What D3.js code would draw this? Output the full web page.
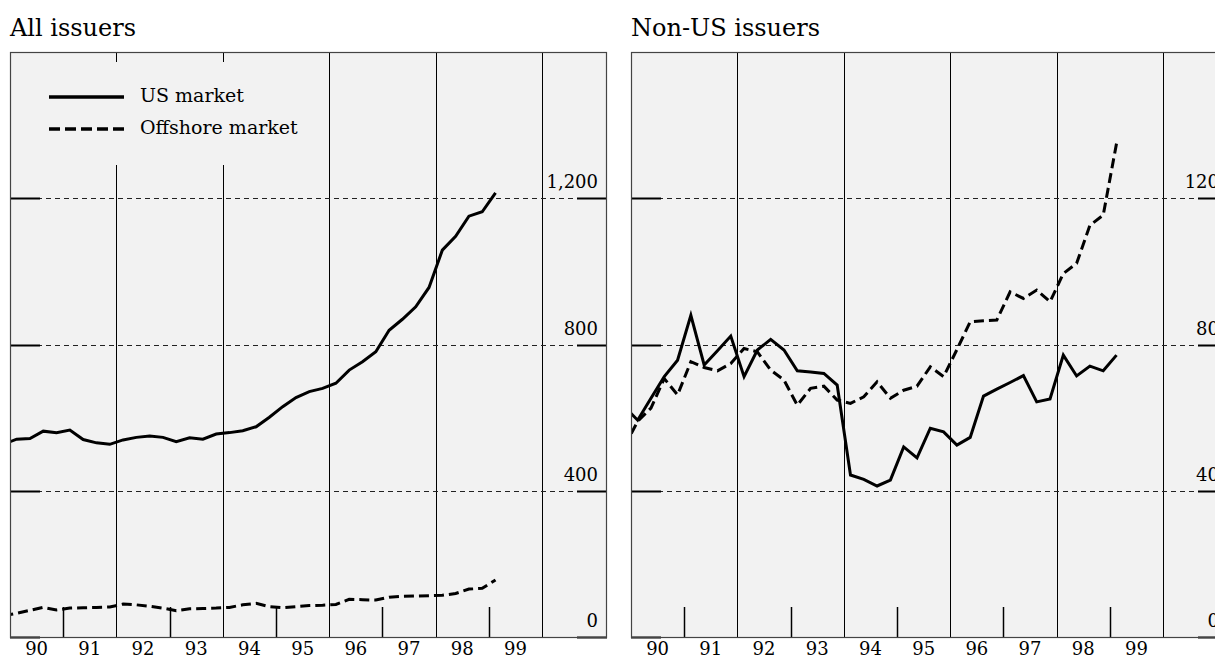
<!DOCTYPE html>
<html>
<head>
<meta charset="utf-8">
<script src="https://cdn.jsdelivr.net/npm/d3@7"></script>
<style>
  body { margin: 0; background: #fff; }
  svg { display: block; font-family: "DejaVu Serif", serif; }
</style>
</head>
<body>
<div id="chart"></div>
<script>
// quarterly observations, 1989Q4 .. 1999Q1
const quarters = ["89Q4",
  "90Q1","90Q2","90Q3","90Q4","91Q1","91Q2","91Q3","91Q4",
  "92Q1","92Q2","92Q3","92Q4","93Q1","93Q2","93Q3","93Q4",
  "94Q1","94Q2","94Q3","94Q4","95Q1","95Q2","95Q3","95Q4",
  "96Q1","96Q2","96Q3","96Q4","97Q1","97Q2","97Q3","97Q4",
  "98Q1","98Q2","98Q3","98Q4","99Q1"];

const yearLabels = ["90","91","92","93","94","95","96","97","98","99"];

// All issuers
const allUS = [527, 541, 543, 563, 559, 566, 540, 531, 527, 539, 546, 550, 546, 534, 545, 541,
  555, 559, 564, 575, 601, 630, 655, 671, 680, 694, 730, 753, 780, 839, 869, 903,
  956, 1058, 1096, 1151, 1163, 1215];
const allOffshore = [58, 65, 73, 81, 74, 79, 80, 81, 82, 90, 88, 84, 79, 72, 77, 78,
  79, 81, 88, 92, 83, 80, 83, 86, 87, 89, 103, 102, 101, 109, 111, 112,
  113, 114, 119, 131, 133, 156];
const allTicks = [0, 400, 800, 1200];
const allTickLabels = ["0", "400", "800", "1,200"];

// Non-US issuers
const nonUS = [63, 59.3, 65.3, 71.2, 75.7, 88.0, 74.4, 78.3, 82.3, 71.2, 78.5, 81.4, 78.5, 72.8, 72.5, 72.1,
  68.9, 44.3, 43.1, 41.3, 42.9, 52.0, 49.0, 57.1, 56.1, 52.5, 54.6, 65.9, 67.8, 69.6, 71.5, 64.3,
  65.1, 77.1, 71.4, 74.1, 72.8, 77.1];
const nonOffshore = [52, 59, 62.6, 70.7, 66.2, 75.3, 73.7, 72.8, 74.8, 78.9, 78.0, 73.0, 70.3, 63.4, 68.0, 68.6,
  64.8, 63.9, 65.7, 69.8, 65.3, 67.5, 68.6, 73.9, 71.2, 78.6, 86.2, 86.5, 86.7, 94.4, 92.6, 94.9,
  91.7, 99.4, 102.2, 112.6, 115.4, 135.0];
const nonTicks = [0, 40, 80, 120];
const nonTickLabels = ["0", "40", "80", "120"];

// quarter label -> mid-quarter decimal year
const qTime = q => 1900 + (+q.slice(0, 2)) + (+q.slice(3) - 1) * 0.25 + 0.125;

const W = 1215, H = 660;
const plotTop = 52, plotBottom = 637, panelW = 597;

const svg = d3.select("#chart")
  .append("svg")
  .attr("width", W)
  .attr("height", H);

function drawPanel(cfg) {
  const x = d3.scaleLinear()
    .domain([1990, 2001.22])
    .range([cfg.left, cfg.left + panelW]);
  const y = d3.scaleLinear()
    .domain([0, cfg.yMax])
    .range([plotBottom, plotTop]);
  const x0 = x.range()[0], x1 = x.range()[1];

  const g = svg.append("g");

  // title
  g.append("text")
    .attr("x", cfg.left)
    .attr("y", 36)
    .style("font-size", "24px")
    .text(cfg.title);

  // plot background
  g.append("rect")
    .attr("x", x0).attr("y", plotTop)
    .attr("width", x1 - x0).attr("height", plotBottom - plotTop)
    .attr("fill", "#f2f2f2");

  // full-height lines at even years, short ticks at odd years
  const evens = d3.range(1992, 2001, 2);
  const odds = d3.range(1991, 2000, 2);
  g.selectAll(".vline")
    .data(evens)
    .join("line")
    .attr("x1", d => Math.round(x(d)) + 0.5).attr("x2", d => Math.round(x(d)) + 0.5)
    .attr("y1", plotTop).attr("y2", plotBottom)
    .attr("stroke", "#000").attr("stroke-width", 1);
  g.selectAll(".vtick")
    .data(odds)
    .join("line")
    .attr("x1", d => Math.round(x(d)) + 0.5).attr("x2", d => Math.round(x(d)) + 0.5)
    .attr("y1", plotBottom - 30).attr("y2", plotBottom)
    .attr("stroke", "#000").attr("stroke-width", 1.5);

  // legend patch covers the grid lines
  if (cfg.legend) {
    g.append("rect")
      .attr("x", x0 + 1).attr("y", 62)
      .attr("width", 312).attr("height", 103)
      .attr("fill", "#f2f2f2");
  }

  // horizontal grid: dashed, with short solid ends
  const grid = cfg.ticks.filter(d => d > 0);
  g.selectAll(".hgrid")
    .data(grid)
    .join("line")
    .attr("x1", x0).attr("x2", x1)
    .attr("y1", d => Math.round(y(d)) + 0.5).attr("y2", d => Math.round(y(d)) + 0.5)
    .attr("stroke", "#222").attr("stroke-width", 1)
    .attr("stroke-dasharray", "5,4");
  g.selectAll(".hendL")
    .data(cfg.ticks)
    .join("line")
    .attr("x1", x0).attr("x2", x0 + 30)
    .attr("y1", d => Math.round(y(d)) + 0.5).attr("y2", d => Math.round(y(d)) + 0.5)
    .attr("stroke", "#000").attr("stroke-width", 2);
  g.selectAll(".hendR")
    .data(cfg.ticks)
    .join("line")
    .attr("x1", x1 - 30).attr("x2", x1)
    .attr("y1", d => Math.round(y(d)) + 0.5).attr("y2", d => Math.round(y(d)) + 0.5)
    .attr("stroke", "#000").attr("stroke-width", 2);

  // tick labels above grid lines, right side
  g.selectAll(".ylab")
    .data(cfg.ticks)
    .join("text")
    .attr("x", x1 - 9)
    .attr("y", d => y(d) - 10)
    .attr("text-anchor", "end")
    .style("font-size", "18px")
    .text((d, i) => cfg.tickLabels[i]);

  // series
  const clipId = "clip" + cfg.left;
  g.append("clipPath").attr("id", clipId)
    .append("rect")
    .attr("x", x0).attr("y", plotTop)
    .attr("width", x1 - x0).attr("height", plotBottom - plotTop);

  const line = d3.line()
    .x((d, i) => x(qTime(quarters[i])))
    .y(d => y(d));

  g.append("path")
    .datum(cfg.us)
    .attr("clip-path", `url(#${clipId})`)
    .attr("fill", "none")
    .attr("stroke", "#000")
    .attr("stroke-width", 3)
    .attr("d", line);

  g.append("path")
    .datum(cfg.offshore)
    .attr("clip-path", `url(#${clipId})`)
    .attr("fill", "none")
    .attr("stroke", "#000")
    .attr("stroke-width", 3)
    .attr("stroke-dasharray", "10,5")
    .attr("d", line);

  // frame
  g.append("rect")
    .attr("x", x0 + 0.5).attr("y", plotTop + 0.5)
    .attr("width", x1 - x0 - 1).attr("height", plotBottom - plotTop)
    .attr("fill", "none")
    .attr("stroke", "#444").attr("stroke-width", 1.2);

  // year labels centred in each year
  g.selectAll(".xlab")
    .data(yearLabels)
    .join("text")
    .attr("x", (d, i) => x(1990 + i + 0.5))
    .attr("y", 655)
    .attr("text-anchor", "middle")
    .style("font-size", "18px")
    .text(d => d);

  if (cfg.legend) {
    const lg = g.append("g");
    lg.append("line")
      .attr("x1", x0 + 39).attr("x2", x0 + 114)
      .attr("y1", 97).attr("y2", 97)
      .attr("stroke", "#000").attr("stroke-width", 3.5);
    lg.append("text")
      .attr("x", x0 + 130).attr("y", 102)
      .style("font-size", "19px")
      .text("US market");
    lg.append("line")
      .attr("x1", x0 + 39).attr("x2", x0 + 114)
      .attr("y1", 129).attr("y2", 129)
      .attr("stroke", "#000").attr("stroke-width", 3.5)
      .attr("stroke-dasharray", "11,5");
    lg.append("text")
      .attr("x", x0 + 130).attr("y", 134)
      .style("font-size", "19px")
      .text("Offshore market");
  }
}

drawPanel({left: 10, title: "All issuers", yMax: 1600,
  ticks: allTicks, tickLabels: allTickLabels,
  us: allUS, offshore: allOffshore, legend: true});

drawPanel({left: 631, title: "Non-US issuers", yMax: 160,
  ticks: nonTicks, tickLabels: nonTickLabels,
  us: nonUS, offshore: nonOffshore, legend: false});
</script>
</body>
</html>
